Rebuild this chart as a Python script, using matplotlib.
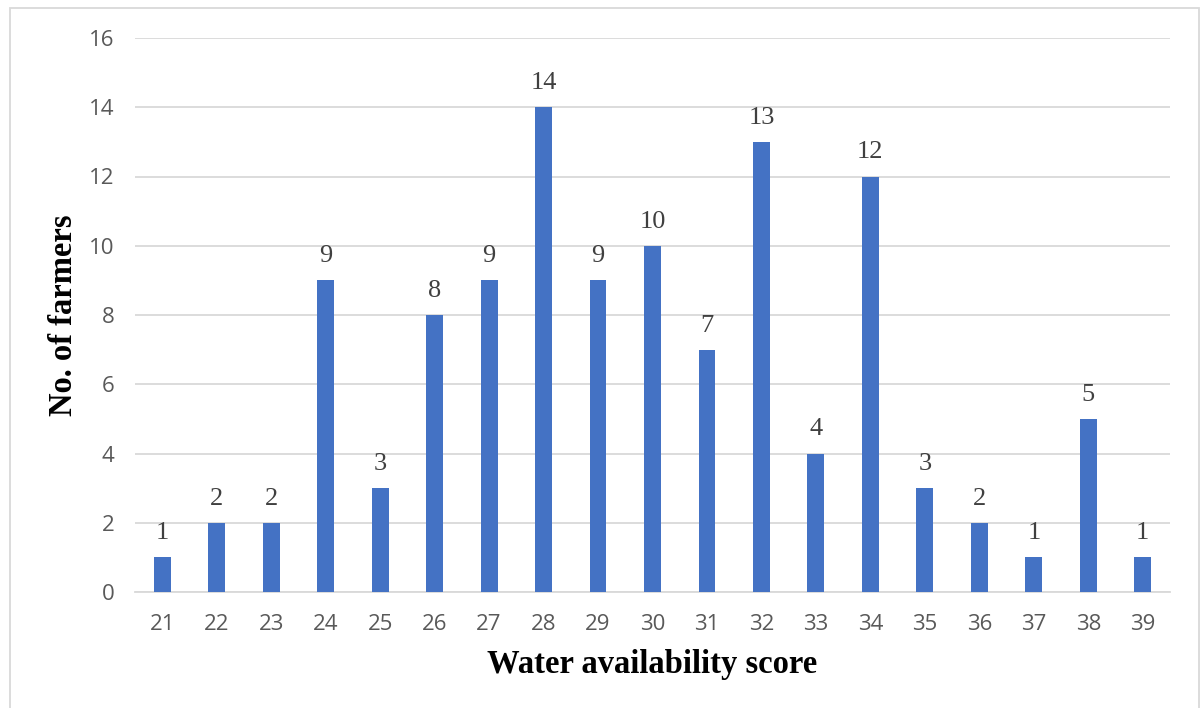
import matplotlib.pyplot as plt
from matplotlib.patches import Rectangle

# Farmers per water availability score
scores = [21, 22, 23, 24, 25, 26, 27, 28, 29, 30, 31, 32, 33, 34, 35, 36, 37, 38, 39]
farmers = [1, 2, 2, 9, 3, 8, 9, 14, 9, 10, 7, 13, 4, 12, 3, 2, 1, 5, 1]
y_ticks = [0, 2, 4, 6, 8, 10, 12, 14, 16]

fig = plt.figure(figsize=(12.04, 7.08), dpi=100)
ax = fig.add_axes([135 / 1204, 1 - 592 / 708, (1170 - 135) / 1204, (592 - 38) / 708])

# Light outer frame around the whole chart
fig.patches.append(Rectangle((10 / 1204, -0.05), (1199 - 10) / 1204, 1 - 8 / 708 + 0.05,
                             transform=fig.transFigure, fill=False,
                             edgecolor='#D9D9D9', linewidth=1.3))

x = list(range(len(scores)))
bars = ax.bar(x, farmers, width=0.31, color='#4472C4', zorder=3)

for xi, v in zip(x, farmers):
    ax.annotate(str(v), (xi, v), xytext=(0, 13), textcoords='offset points',
                ha='center', va='baseline', fontsize=19, color='#404040',
                family='Liberation Serif')

ax.set_xlim(-0.5, len(scores) - 0.5)
ax.set_ylim(0, 16)
ax.set_yticks(y_ticks)
ax.set_xticks(x)
ax.set_xticklabels([str(s) for s in scores])
ax.grid(axis='y', color='#D9D9D9', linewidth=1.3, zorder=0)
for side in ['top', 'right', 'left']:
    ax.spines[side].set_visible(False)
ax.spines['bottom'].set_color('#D9D9D9')
ax.spines['bottom'].set_linewidth(1.3)
ax.tick_params(length=0, labelsize=16, labelcolor='#595959', pad=16)
ax.tick_params(axis='y', pad=15)
for lbl in ax.get_xticklabels() + ax.get_yticklabels():
    lbl.set_family('Open Sans')

ax.set_xlabel('Water availability score', fontsize=23.5, fontweight='bold',
              family='Liberation Serif')
ax.set_ylabel('No. of farmers', fontsize=23.5, fontweight='bold',
              family='Liberation Serif')
ax.xaxis.set_label_coords(0.5, (708 - 664 - 116) / 554, transform=ax.transAxes)
ax.xaxis.label.set_va('center')
ax.yaxis.set_label_coords((63 - 135) / 1035, 0.5, transform=ax.transAxes)
ax.yaxis.label.set_va('center')

fig.savefig('out.png', dpi=100)
